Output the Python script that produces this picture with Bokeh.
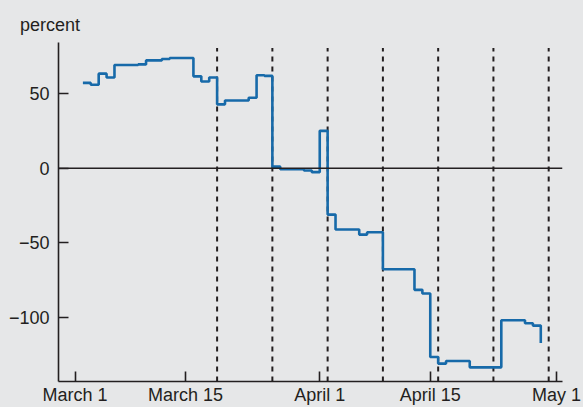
from bokeh.plotting import figure
from bokeh.models import Range1d, FixedTicker, Span
from bokeh.embed import file_html
from bokeh.resources import INLINE

try:
    from bokeh.models import GlobalInlineStyleSheet
except Exception:
    GlobalInlineStyleSheet = None

# days since March 1 (March 1 = 0); value holds from that day until the next entry
days = [1, 2, 3, 4, 5, 8, 9, 11, 12, 15, 16, 17, 18, 19, 22, 23, 24, 25, 26, 29, 30,
        31, 32, 33, 36, 37, 39, 43, 44, 45, 46, 47, 50, 54, 57, 58, 59]
values = [57.3, 56.0, 63.5, 60.9, 69.3, 69.7, 72.4, 73.3, 74.0, 61.7, 58.2, 60.9,
          42.9, 45.5, 47.3, 62.4, 62.0, 1.1, -0.7, -1.5, -2.6, 25.1, -31.1, -41.1,
          -44.5, -42.9, -67.8, -81.6, -84.0, -126.7, -131.1, -129.3, -133.6, -102.0,
          -104.0, -105.6, -117.3]

# weekly release days (dashed lines): March 19 ... April 30
release_days = [18, 25, 32, 39, 46, 53, 60]

x_tick_days = [0, 14, 31, 45, 61]
x_tick_labels = ["March 1", "March 15", "April 1", "April 15", "May 1"]
y_ticks = [-100, -50, 0, 50]
y_tick_labels = ["\u2212100", "\u221250", "0", "50"]

BG = "#e6e7e8"
INK = "#231f20"
BLUE = "#176aa9"
FONT = "Liberation Sans"

y_lo, y_hi = -143.1, 84.4
x_lo, x_hi = -2.09, 61.75

p = figure(width=583, height=407, output_backend="svg", toolbar_location=None,
           x_range=Range1d(x_lo, x_hi), y_range=Range1d(y_lo, y_hi),
           min_border_left=58, min_border_right=21, min_border_top=42,
           min_border_bottom=24)
p.background_fill_color = BG
p.border_fill_color = BG
p.outline_line_color = None
p.grid.visible = False

if GlobalInlineStyleSheet is not None:
    p.stylesheets = [GlobalInlineStyleSheet(css="html, body { background: %s; }" % BG)]

p.title.text = "percent"
p.title.text_font = FONT
p.title.text_font_size = "18px"
p.title.text_font_style = "normal"
p.title.text_color = INK
p.title.align = "left"
p.title.offset = -38.5
p.title.standoff = 15

for ax in (p.xaxis[0], p.yaxis[0]):
    ax.axis_line_color = INK
    ax.axis_line_width = 1.6
    ax.major_tick_line_color = INK
    ax.major_tick_line_width = 1.6
    ax.major_tick_in = 10
    ax.major_tick_out = 0
    ax.minor_tick_line_color = None
    ax.major_label_text_font = FONT
    ax.major_label_text_font_size = "18px"
    ax.major_label_text_color = INK

p.xaxis.ticker = FixedTicker(ticks=x_tick_days)
p.xaxis.major_label_overrides = dict(zip(x_tick_days, x_tick_labels))
p.xaxis.major_label_standoff = 3

p.yaxis.ticker = FixedTicker(ticks=y_ticks)
p.yaxis.major_label_overrides = dict(zip(y_ticks, y_tick_labels))
p.yaxis.major_label_standoff = 9

# zero line
p.add_layout(Span(location=0, dimension="width", line_color=INK, line_width=1.6))

# dashed weekly lines
p.segment(x0=release_days, x1=release_days,
          y0=[y_lo] * len(release_days), y1=[80.7] * len(release_days),
          line_color=INK, line_width=2, line_dash="5 5")

p.step(x=days, y=values, mode="after", line_color=BLUE, line_width=2.6)

open("out.html", "w").write(file_html(p, INLINE))
